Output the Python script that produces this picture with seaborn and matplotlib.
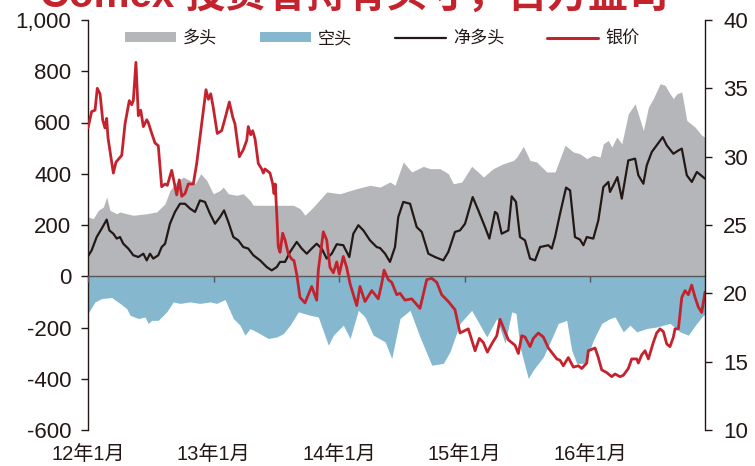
import matplotlib
matplotlib.use("Agg")
import matplotlib.pyplot as plt
import seaborn as sns
from matplotlib.patches import Patch
from matplotlib.lines import Line2D
from matplotlib.ticker import FuncFormatter

# ---------------- data ----------------
title_text = "Comex 投资者持有头寸，百万盎司"
legend_labels = ["多头", "空头", "净多头", "银价"]
year_ticks = [2012, 2013, 2014, 2015, 2016]
year_labels = ["12年1月", "13年1月", "14年1月", "15年1月", "16年1月"]

# long positions (grey area), decimal year / value
long_t = [2012.000, 2012.042, 2012.082, 2012.122, 2012.149, 2012.175, 2012.229, 2012.255,
          2012.308, 2012.361, 2012.468, 2012.547, 2012.614, 2012.653, 2012.707, 2012.759,
          2012.813, 2012.853, 2012.898, 2012.946, 2012.998, 2013.052, 2013.078, 2013.118,
          2013.185, 2013.237, 2013.291, 2013.317, 2013.476, 2013.583, 2013.636, 2013.689,
          2013.729, 2013.795, 2013.902, 2014.008, 2014.141, 2014.247, 2014.327, 2014.406,
          2014.446, 2014.512, 2014.579, 2014.672, 2014.725, 2014.805, 2014.871, 2014.911,
          2014.978, 2015.057, 2015.124, 2015.150, 2015.229, 2015.309, 2015.389, 2015.416,
          2015.469, 2015.522, 2015.575, 2015.655, 2015.721, 2015.801, 2015.867, 2015.920,
          2015.974, 2016.026, 2016.080, 2016.106, 2016.146, 2016.173, 2016.213, 2016.253,
          2016.305, 2016.359, 2016.425, 2016.465, 2016.504, 2016.558, 2016.598, 2016.637,
          2016.664, 2016.691, 2016.731, 2016.771, 2016.837, 2016.890, 2016.916]
long_v = [231, 225, 257, 270, 309, 257, 244, 251,
          244, 238, 244, 251, 283, 335, 368, 387,
          374, 361, 400, 374, 322, 335, 348, 322,
          316, 322, 296, 277, 277, 277, 277, 264,
          238, 270, 329, 322, 342, 355, 348, 368,
          355, 446, 407, 429, 420, 420, 400, 361,
          368, 429, 400, 387, 420, 439, 452, 465,
          507, 452, 446, 407, 407, 511, 485, 478,
          459, 472, 465, 517, 530, 504, 543, 517,
          634, 673, 569, 660, 693, 751, 745, 712,
          693, 712, 719, 608, 582, 550, 543]

# short positions (blue area)
short_t = [2012.000, 2012.056, 2012.109, 2012.189, 2012.255, 2012.308, 2012.335, 2012.401,
           2012.454, 2012.480, 2012.508, 2012.560, 2012.627, 2012.680, 2012.733, 2012.813,
           2012.892, 2012.972, 2013.025, 2013.092, 2013.158, 2013.211, 2013.251, 2013.291,
           2013.344, 2013.437, 2013.504, 2013.556, 2013.610, 2013.676, 2013.769, 2013.835,
           2013.915, 2013.955, 2014.034, 2014.088, 2014.154, 2014.207, 2014.273, 2014.367,
           2014.420, 2014.486, 2014.566, 2014.645, 2014.739, 2014.831, 2014.884, 2014.964,
           2015.057, 2015.177, 2015.257, 2015.323, 2015.376, 2015.410, 2015.442, 2015.508,
           2015.548, 2015.628, 2015.695, 2015.747, 2015.814, 2015.854, 2015.894, 2015.960,
           2016.026, 2016.093, 2016.159, 2016.199, 2016.265, 2016.319, 2016.372, 2016.452,
           2016.531, 2016.637, 2016.717, 2016.783, 2016.850, 2016.903, 2016.916]
short_v = [-145, -100, -87, -83, -106, -126, -152, -165,
           -159, -184, -172, -172, -139, -100, -106, -100,
           -106, -100, -106, -91, -165, -191, -230, -204,
           -217, -243, -237, -224, -191, -139, -152, -159,
           -269, -230, -191, -243, -133, -159, -230, -256,
           -321, -165, -133, -237, -347, -340, -295, -184,
           -133, -237, -165, -262, -139, -145, -276, -399,
           -366, -315, -243, -184, -172, -289, -340, -340,
           -250, -184, -165, -159, -217, -191, -217, -204,
           -198, -184, -217, -230, -184, -152, -150]

# net long (black line)
net_t = [2012.000, 2012.029, 2012.069, 2012.109, 2012.149, 2012.170, 2012.202, 2012.229,
         2012.255, 2012.281, 2012.321, 2012.361, 2012.401, 2012.441, 2012.468, 2012.494,
         2012.520, 2012.560, 2012.587, 2012.614, 2012.653, 2012.693, 2012.733, 2012.773,
         2012.813, 2012.853, 2012.892, 2012.932, 2012.972, 2013.012, 2013.052, 2013.084,
         2013.118, 2013.158, 2013.198, 2013.237, 2013.277, 2013.317, 2013.371, 2013.424,
         2013.464, 2013.504, 2013.530, 2013.570, 2013.610, 2013.663, 2013.703, 2013.743,
         2013.782, 2013.822, 2013.862, 2013.902, 2013.942, 2013.982, 2014.034, 2014.082,
         2014.114, 2014.154, 2014.194, 2014.247, 2014.300, 2014.327, 2014.367, 2014.406,
         2014.446, 2014.472, 2014.512, 2014.566, 2014.619, 2014.659, 2014.712, 2014.765,
         2014.831, 2014.871, 2014.924, 2014.964, 2015.004, 2015.065, 2015.110, 2015.163,
         2015.198, 2015.243, 2015.261, 2015.296, 2015.349, 2015.376, 2015.410, 2015.442,
         2015.482, 2015.522, 2015.562, 2015.602, 2015.668, 2015.695, 2015.721, 2015.761,
         2015.809, 2015.841, 2015.880, 2015.920, 2015.947, 2015.974, 2016.026, 2016.066,
         2016.106, 2016.146, 2016.159, 2016.186, 2016.218, 2016.253, 2016.305, 2016.359,
         2016.385, 2016.425, 2016.452, 2016.492, 2016.531, 2016.579, 2016.611, 2016.664,
         2016.704, 2016.731, 2016.771, 2016.811, 2016.851, 2016.916]
net_v = [78, 101, 153, 186, 221, 179, 166, 147,
         153, 127, 108, 82, 75, 88, 62, 88,
         69, 82, 114, 127, 205, 251, 283, 283,
         264, 251, 296, 290, 244, 205, 231, 257,
         212, 153, 140, 114, 108, 82, 62, 36,
         23, 36, 56, 56, 95, 134, 108, 88,
         108, 127, 108, 69, 88, 125, 121, 75,
         166, 199, 179, 140, 114, 110, 88, 56,
         114, 231, 290, 283, 192, 173, 88, 75,
         62, 95, 173, 179, 205, 309, 257, 192,
         147, 251, 244, 166, 179, 312, 290, 153,
         140, 69, 62, 114, 121, 108, 153, 244,
         346, 335, 153, 143, 121, 153, 147, 218,
         348, 368, 329, 355, 387, 303, 452, 459,
         394, 361, 433, 485, 511, 543, 511, 478,
         491, 498, 394, 368, 407, 381]

# silver price (red line, right axis)
silver_t = [2012.000, 2012.029, 2012.056, 2012.074, 2012.096, 2012.117, 2012.135, 2012.149,
            2012.159, 2012.202, 2012.223, 2012.269, 2012.295, 2012.329, 2012.348, 2012.361,
            2012.382, 2012.401, 2012.420, 2012.441, 2012.468, 2012.480, 2012.508, 2012.534,
            2012.560, 2012.587, 2012.614, 2012.632, 2012.667, 2012.707, 2012.727, 2012.747,
            2012.773, 2012.799, 2012.839, 2012.866, 2012.906, 2012.940, 2012.959, 2012.978,
            2012.998, 2013.030, 2013.065, 2013.092, 2013.126, 2013.153, 2013.171, 2013.206,
            2013.237, 2013.265, 2013.277, 2013.296, 2013.312, 2013.331, 2013.357, 2013.384,
            2013.397, 2013.410, 2013.450, 2013.472, 2013.482, 2013.492, 2013.504, 2013.516,
            2013.530, 2013.551, 2013.570, 2013.596, 2013.623, 2013.641, 2013.663, 2013.689,
            2013.729, 2013.782, 2013.822, 2013.835, 2013.875, 2013.902, 2013.928, 2013.955,
            2013.982, 2014.002, 2014.034, 2014.061, 2014.088, 2014.141, 2014.167, 2014.207,
            2014.261, 2014.313, 2014.340, 2014.359, 2014.393, 2014.420, 2014.460, 2014.486,
            2014.526, 2014.579, 2014.645, 2014.699, 2014.739, 2014.779, 2014.818, 2014.871,
            2014.924, 2014.964, 2015.030, 2015.084, 2015.118, 2015.150, 2015.182, 2015.217,
            2015.257, 2015.283, 2015.309, 2015.349, 2015.402, 2015.429, 2015.456, 2015.482,
            2015.522, 2015.548, 2015.588, 2015.628, 2015.668, 2015.735, 2015.761, 2015.787,
            2015.827, 2015.867, 2015.907, 2015.934, 2015.974, 2015.986, 2016.040, 2016.066,
            2016.093, 2016.133, 2016.173, 2016.199, 2016.239, 2016.265, 2016.305, 2016.332,
            2016.372, 2016.385, 2016.412, 2016.438, 2016.465, 2016.504, 2016.531, 2016.558,
            2016.584, 2016.611, 2016.637, 2016.664, 2016.677, 2016.704, 2016.731, 2016.757,
            2016.783, 2016.810, 2016.837, 2016.863, 2016.890, 2016.916]
silver_v = [32.1, 33.3, 33.4, 35.0, 34.6, 32.7, 32.1, 32.8,
            31.4, 28.8, 29.6, 30.1, 32.4, 34.1, 33.8, 34.1,
            36.9, 33.0, 33.4, 32.2, 32.7, 32.5, 31.7, 31.0,
            30.8, 27.8, 28.0, 27.9, 29.0, 27.2, 28.3, 27.1,
            27.3, 28.0, 28.0, 29.5, 32.4, 34.9, 34.2, 34.6,
            33.6, 31.7, 31.9, 32.8, 34.0, 32.9, 32.4, 30.0,
            30.5, 31.2, 32.2, 31.6, 31.9, 31.3, 29.5, 29.1,
            28.8, 29.1, 28.8, 28.0, 27.3, 28.0, 25.8, 23.4,
            23.0, 24.4, 23.9, 22.9, 22.5, 22.4, 21.4, 19.7,
            19.3, 20.5, 19.5, 21.7, 24.5, 23.9, 21.9, 21.5,
            22.3, 21.4, 22.7, 21.9, 20.7, 19.1, 20.5, 19.4,
            20.2, 19.6, 20.7, 21.7, 21.0, 20.8, 19.9, 20.0,
            19.5, 19.6, 18.9, 21.0, 21.1, 20.8, 19.9, 19.4,
            18.8, 17.1, 17.4, 15.8, 16.7, 16.4, 15.7, 16.3,
            16.9, 18.1, 17.5, 16.6, 16.2, 15.6, 16.9, 16.8,
            16.1, 16.7, 17.1, 16.8, 16.0, 15.2, 15.1, 14.7,
            15.3, 14.6, 14.7, 14.5, 14.9, 15.8, 16.0, 15.3,
            14.4, 14.2, 13.9, 14.1, 13.9, 14.0, 14.5, 15.2,
            15.2, 14.9, 15.5, 15.8, 15.2, 16.4, 17.1, 17.4,
            17.2, 16.3, 16.1, 16.8, 17.4, 17.4, 19.7, 20.2,
            19.9, 20.6, 19.7, 19.0, 18.6, 20.1]

assert len(long_t) == len(long_v)
assert len(short_t) == len(short_v)
assert len(net_t) == len(net_v)
assert len(silver_t) == len(silver_v)

# ---------------- styling ----------------
GRAY = "#B5B6BA"
BLUE = "#85B7CE"
BLACK = "#231815"
RED = "#C4232E"
TXT = "#231815"

sns.set_theme(style="white")
plt.rcParams["font.family"] = ["Liberation Sans", "Noto Sans CJK SC"]
plt.rcParams["axes.unicode_minus"] = False

fig = plt.figure(figsize=(7.55, 4.66), dpi=100)
ax = fig.add_axes([88 / 755, 1 - 430 / 466, 617 / 755, 410 / 466])
ax2 = ax.twinx()

ax.fill_between(long_t, 0, long_v, color=GRAY, lw=0, zorder=1)
ax.fill_between(short_t, short_v, 0, color=BLUE, lw=0, zorder=1)
sns.lineplot(x=net_t, y=net_v, ax=ax, color=BLACK, lw=1.6, zorder=3)
sns.lineplot(x=silver_t, y=silver_v, ax=ax2, color=RED, lw=2.0)

ax.set_xlim(2012.0, 2016.916)
ax.set_ylim(-600, 1000)
ax2.set_ylim(10, 40)
ax.set_xlabel("")
ax.set_ylabel("")
ax2.set_ylabel("")

# left axis
ax.set_yticks(range(-600, 1001, 200))
ax.yaxis.set_major_formatter(FuncFormatter(lambda v, p: f"{int(v):,}"))
ax.tick_params(axis="y", which="major", left=True, direction="out", length=5,
               width=1, color=TXT, labelsize=16, labelcolor=TXT, pad=7)
# right axis
ax2.set_yticks(range(10, 41, 5))
ax2.tick_params(axis="y", which="major", right=True, direction="out", length=5,
                width=1, color=TXT, labelsize=16, labelcolor=TXT, pad=8)

# x labels at bottom, ticks on the zero line
ax.set_xticks(year_ticks)
ax.set_xticklabels(year_labels)
ax.tick_params(axis="x", bottom=True, length=0, labelsize=14.5, labelcolor=TXT, pad=11)
sec = ax.secondary_xaxis(0, transform=ax.transData)
sec.set_xticks(year_ticks)
sec.tick_params(axis="x", direction="out", length=4, width=1, color="#595757",
                labelbottom=False, labeltop=False)
sec.spines["bottom"].set_color("#595757")
sec.spines["bottom"].set_linewidth(1.0)
sec.set_zorder(2.5)

for s in ["top", "bottom", "right"]:
    ax.spines[s].set_visible(False)
ax.spines["left"].set_color(TXT)
ax.spines["left"].set_linewidth(1.0)
for s in ["top", "bottom", "left"]:
    ax2.spines[s].set_visible(False)
ax2.spines["right"].set_color(TXT)
ax2.spines["right"].set_linewidth(1.0)
ax.grid(False)
ax2.grid(False)

# legend
handles = [Patch(facecolor=GRAY, edgecolor="none"),
           Patch(facecolor=BLUE, edgecolor="none"),
           Line2D([], [], color=BLACK, lw=1.6),
           Line2D([], [], color=RED, lw=2.2)]
leg = ax2.legend(handles, legend_labels, loc="center", bbox_to_anchor=(0.4765, 0.956),
                 ncol=4, frameon=False, fontsize=12.3, handlelength=3.0,
                 handleheight=0.55, handletextpad=0.4, columnspacing=2.5,
                 borderpad=0.2)
for t in leg.get_texts():
    t.set_color(TXT)

# cut-off title at the very top
fig.text(40 / 755, 1 - 7 / 466, title_text, color=RED, fontsize=29,
         fontweight="bold", ha="left", va="baseline")

fig.savefig("out.png", dpi=100)
